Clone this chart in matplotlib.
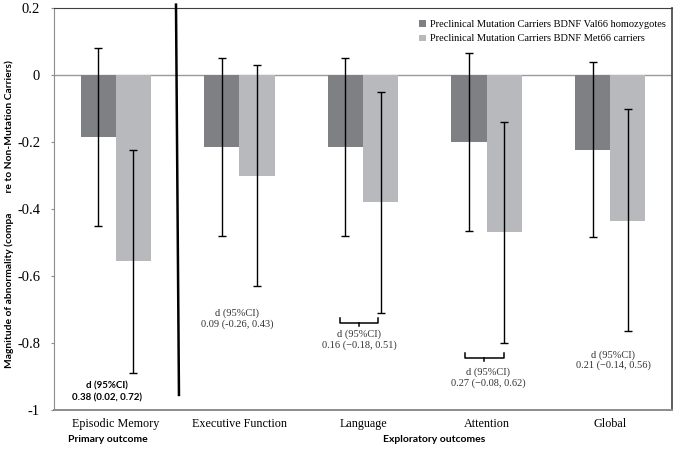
"""
Magnitude of abnormality by BDNF genotype, preclinical mutation carriers.
"""

import matplotlib.pyplot as plt
import matplotlib.patches as mpatches
import numpy as np


# data
categories = ["Episodic Memory", "Executive Function", "Language", "Attention", "Global"]
val66_mean = [-0.185, -0.215, -0.215, -0.20, -0.225]
val66_hi = [0.08, 0.05, 0.05, 0.065, 0.04]
val66_lo = [-0.45, -0.48, -0.48, -0.465, -0.485]
met66_mean = [-0.555, -0.30, -0.38, -0.47, -0.435]
met66_hi = [-0.225, 0.03, -0.05, -0.14, -0.10]
met66_lo = [-0.89, -0.63, -0.71, -0.80, -0.765]
effect_text = [
    "d (95%CI)\n0.38 (0.02, 0.72)",
    "d (95%CI)\n0.09 (-0.26, 0.43)",
    "d (95%CI)\n0.16 (\u22120.18, 0.51)",
    "d (95%CI)\n0.27 (\u22120.08, 0.62)",
    "d (95%CI)\n0.21 (\u22120.14, 0.56)",
]
yticks = [0.2, 0, -0.2, -0.4, -0.6, -0.8, -1]
ytick_labels = ["0.2", "0", "-0.2", "-0.4", "-0.6", "-0.8", "-1"]

COLOR_VAL = "#7e8084"
COLOR_MET = "#b7b9bc"
SERIF = "Liberation Serif"
SANS = "Lato"

fig = plt.figure(figsize=(6.8, 4.54), dpi=100, facecolor="white")
ax = fig.add_axes([54 / 680, 1 - 410 / 454, 618 / 680, 402 / 454])

x = np.arange(len(categories))
width = 0.285

ax.bar(x - width / 2, val66_mean, width, color=COLOR_VAL, zorder=2)
ax.bar(x + width / 2, met66_mean, width, color=COLOR_MET, zorder=2)

# asymmetric CIs
v_err = [np.array(val66_mean) - np.array(val66_lo), np.array(val66_hi) - np.array(val66_mean)]
m_err = [np.array(met66_mean) - np.array(met66_lo), np.array(met66_hi) - np.array(met66_mean)]
ax.errorbar(x - width / 2, val66_mean, yerr=v_err, fmt="none", ecolor="black",
            elinewidth=1, capsize=3, capthick=1, zorder=3)
ax.errorbar(x + width / 2, met66_mean, yerr=m_err, fmt="none", ecolor="black",
            elinewidth=1, capsize=3, capthick=1, zorder=3)

ax.axhline(0, color="#9a9a9a", linewidth=1, zorder=1)

# separator between primary and exploratory outcomes
ax.plot([0.487, 0.511], [0.21, -0.955], color="black", linewidth=1.8, clip_on=False, zorder=4)

# brackets under Language and Attention
for x0, x1, yb in [(1.814, 2.121, -0.740), (2.825, 3.141, -0.845)]:
    xm = (x0 + x1) / 2
    ax.plot([x0, x0, x1, x1], [yb + 0.015, yb, yb, yb + 0.015], color="black", linewidth=1.1)
    ax.plot([xm, xm], [yb, yb - 0.01], color="black", linewidth=1.1)

# effect size annotations
ax.text(-0.07, -0.946, effect_text[0], ha="center", va="center", fontsize=7,
        family=SANS, fontweight="bold", linespacing=1.3)
text_pos = [(0.98, -0.727), (1.968, -0.791), (3.011, -0.904), (4.023, -0.851)]
for (tx, ty), s in zip(text_pos, effect_text[1:]):
    ax.text(tx, ty, s, ha="center", va="center", fontsize=7.5, family=SERIF,
            color="#333333", linespacing=1.15)

ax.set_xlim(-0.5, len(categories) - 0.5)
ax.set_ylim(-1, 0.2)
ax.set_yticks(yticks)
ax.set_yticklabels(ytick_labels, family=SERIF, fontsize=10.5)
ax.set_xticks(x)
ax.set_xticklabels(categories, family=SERIF, fontsize=8.7)
ax.tick_params(axis="x", length=0, pad=6)
ax.tick_params(axis="y", length=2, color="#8c8c8c", pad=8)

ax.spines["left"].set_color("#8c8c8c")
ax.spines["bottom"].set_color("#8c8c8c")
ax.spines["bottom"].set_linewidth(1.4)
ax.spines["top"].set_color("#404040")
ax.spines["right"].set_color("#505050")
ax.spines["right"].set_linewidth(1.3)

ax.set_ylabel("Magnitude of abnormality (compa        re to Non-Mutation Carriers)",
              family=SANS, fontweight="bold", fontsize=7.4)
ax.yaxis.set_label_coords(-0.065, 0.488)

fig.text(108 / 680, 1 - 439 / 454, "Primary outcome", ha="center", va="center",
         family=SANS, fontweight="bold", fontsize=7.5)
fig.text(434 / 680, 1 - 439 / 454, "Exploratory outcomes", ha="center", va="center",
         family=SANS, fontweight="bold", fontsize=7.5)

handles = [
    mpatches.Patch(facecolor=COLOR_VAL, label="Preclinical Mutation Carriers BDNF Val66 homozygotes"),
    mpatches.Patch(facecolor=COLOR_MET, label="Preclinical Mutation Carriers BDNF Met66 carriers"),
]
ax.legend(handles=handles, loc="upper right", bbox_to_anchor=(1.0, 0.985), frameon=False,
          prop={"family": SERIF, "size": 7.5}, handlelength=0.6, handleheight=0.6,
          handletextpad=0.4, labelspacing=0.5, borderaxespad=0.2)

plt.savefig("out.png", dpi=100, facecolor="white")
